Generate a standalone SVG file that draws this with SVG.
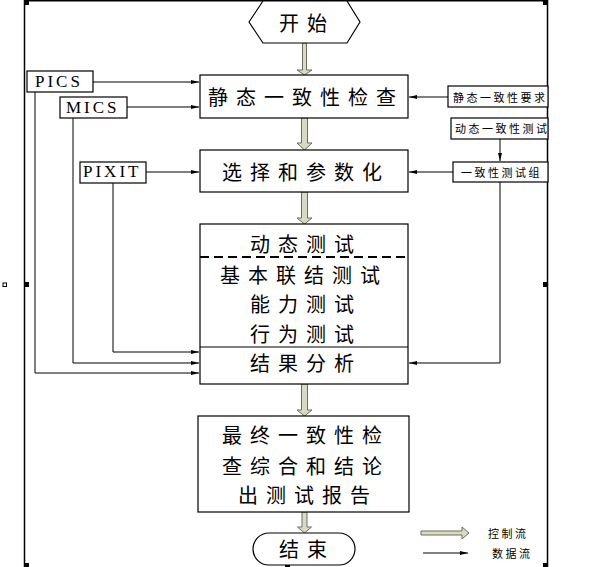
<svg xmlns="http://www.w3.org/2000/svg" width="602" height="567" viewBox="0 0 602 567">
<defs>
<style>
.box{fill:#fff;stroke:#000;stroke-width:1.2}
.ln{fill:none;stroke:#000;stroke-width:1}
.frame{fill:none;stroke:#000;stroke-width:1.5}
.big{font-family:"Noto Sans CJK SC","Noto Sans CJK TC",sans-serif;font-size:20px;letter-spacing:8px;fill:#000;dominant-baseline:central}
.sm{font-family:"Noto Sans CJK SC","Noto Sans CJK TC",sans-serif;font-size:11px;letter-spacing:2.5px;fill:#000;dominant-baseline:central}
.lat{font-family:"Liberation Serif","Times New Roman",serif;font-size:17px;letter-spacing:3px;fill:#000}
.blk{fill:#dadac4;stroke:#6e6e5e;stroke-width:1}
.h{fill:#000}
</style>
<marker id="ah" markerWidth="9" markerHeight="6" refX="8" refY="3" orient="auto" markerUnits="userSpaceOnUse">
<path d="M0,1 L8,3 L0,5 z" fill="#000"/>
</marker>
</defs>

<!-- frame -->
<g id="frame">
<path class="frame" d="M24.5,567 V0.8 H547.5 V567"/>
<rect class="h" x="24" y="0" width="5" height="5"/>
<rect class="h" x="285" y="2" width="5" height="4"/>
<rect class="h" x="543" y="0" width="5" height="5"/>
<rect class="h" x="24" y="282" width="5" height="5"/>
<rect class="h" x="543" y="282" width="5" height="5"/>
<rect class="h" x="24" y="563" width="5" height="4"/>
<rect class="h" x="285" y="564" width="5" height="3"/>
<rect class="h" x="543" y="563" width="5" height="4"/>
<rect x="3" y="283" width="3.5" height="3.5" fill="#fff" stroke="#000" stroke-width="1"/>
</g>

<!-- connectors -->
<g id="connectors">
<!-- control flow block arrows -->
<path class="blk" d="M302.5,43 V70 H297 L304.5,75 L312,70 H306.5 V43 Z"/>
<path class="blk" d="M301.5,118 V143 H297 L304.5,150 L312,143 H307.5 V118 Z"/>
<path class="blk" d="M301.5,192 V218 H297 L304.5,224 L312,218 H307.5 V192 Z"/>
<path class="blk" d="M301.5,384 V410 H297 L304.5,416 L312,410 H307.5 V384 Z"/>
<path class="blk" d="M302,512 V527 H297.5 L304.5,533 L311.5,527 H307 V512 Z"/>
<!-- data flows -->
<path class="ln" d="M93,82 H199" marker-end="url(#ah)"/>
<path class="ln" d="M127,107 H199" marker-end="url(#ah)"/>
<path class="ln" d="M146,172 H199" marker-end="url(#ah)"/>
<path class="ln" d="M35,92 V373 H199" marker-end="url(#ah)"/>
<path class="ln" d="M73,118 V363 H199" marker-end="url(#ah)"/>
<path class="ln" d="M113,183 V352 H199" marker-end="url(#ah)"/>
<path class="ln" d="M448,97 H409" marker-end="url(#ah)"/>
<path class="ln" d="M453,172 H409" marker-end="url(#ah)"/>
<path class="ln" d="M500,139 V161" marker-end="url(#ah)"/>
<path class="ln" d="M500,182 V363 H409" marker-end="url(#ah)"/>
</g>

<g id="start">
<path class="box" d="M249,22 L263,1 H347 L360,22 L347,43 H263 Z"/>
<text class="big" x="279" y="22">开始</text>
</g>

<g id="static-check">
<rect class="box" x="200" y="75" width="208" height="43"/>
<text class="big" x="208" y="96">静态一致性检查</text>
</g>

<g id="select-param">
<rect class="box" x="200" y="150" width="208" height="42"/>
<text class="big" x="222" y="171">选择和参数化</text>
</g>

<g id="dynamic-test">
<rect class="box" x="200" y="224" width="208" height="160"/>
<path d="M200,257 H408" fill="none" stroke="#000" stroke-width="1.8" stroke-dasharray="9 5"/>
<path class="ln" d="M200,347 H408"/>
<text class="big" x="250" y="243">动态测试</text>
<text class="big" x="220" y="274">基本联结测试</text>
<text class="big" x="250" y="303.5">能力测试</text>
<text class="big" x="250" y="333">行为测试</text>
<text class="big" x="250" y="362">结果分析</text>
</g>

<g id="final-check">
<rect class="box" x="198" y="416" width="211" height="96"/>
<text class="big" x="222" y="434">最终一致性检</text>
<text class="big" x="222" y="465">查综合和结论</text>
<text class="big" x="238" y="494">出测试报告</text>
</g>

<g id="end">
<rect class="box" x="253" y="533" width="102" height="32" rx="16" ry="16"/>
<text class="big" x="279" y="548">结束</text>
</g>

<g id="pics">
<rect class="box" x="27" y="71" width="66" height="21"/>
<text class="lat" x="35" y="87">PICS</text>
</g>
<g id="mics">
<rect class="box" x="60" y="97" width="67" height="21"/>
<text class="lat" x="66" y="113">MICS</text>
</g>
<g id="pixit">
<rect class="box" x="80" y="162" width="66" height="21"/>
<text class="lat" x="83" y="177">PIXIT</text>
</g>

<g id="static-req">
<rect class="box" x="448" y="86" width="100" height="21"/>
<text class="sm" x="453" y="97">静态一致性要求</text>
</g>
<g id="dynamic-req">
<rect class="box" x="451" y="118" width="97" height="21"/>
<text class="sm" x="455" y="128">动态一致性测试</text>
</g>
<g id="test-suite">
<rect class="box" x="453" y="162" width="95" height="20"/>
<text class="sm" x="461" y="172">一致性测试组</text>
</g>

<g id="legend">
<path class="blk" d="M421,531 H462 V527 L469,533 L462,539 V535 H421 Z"/>
<text class="sm" x="488" y="533">控制流</text>
<path class="ln" d="M423,553 H468" marker-end="url(#ah)"/>
<text class="sm" x="492" y="553">数据流</text>
</g>
</svg>
